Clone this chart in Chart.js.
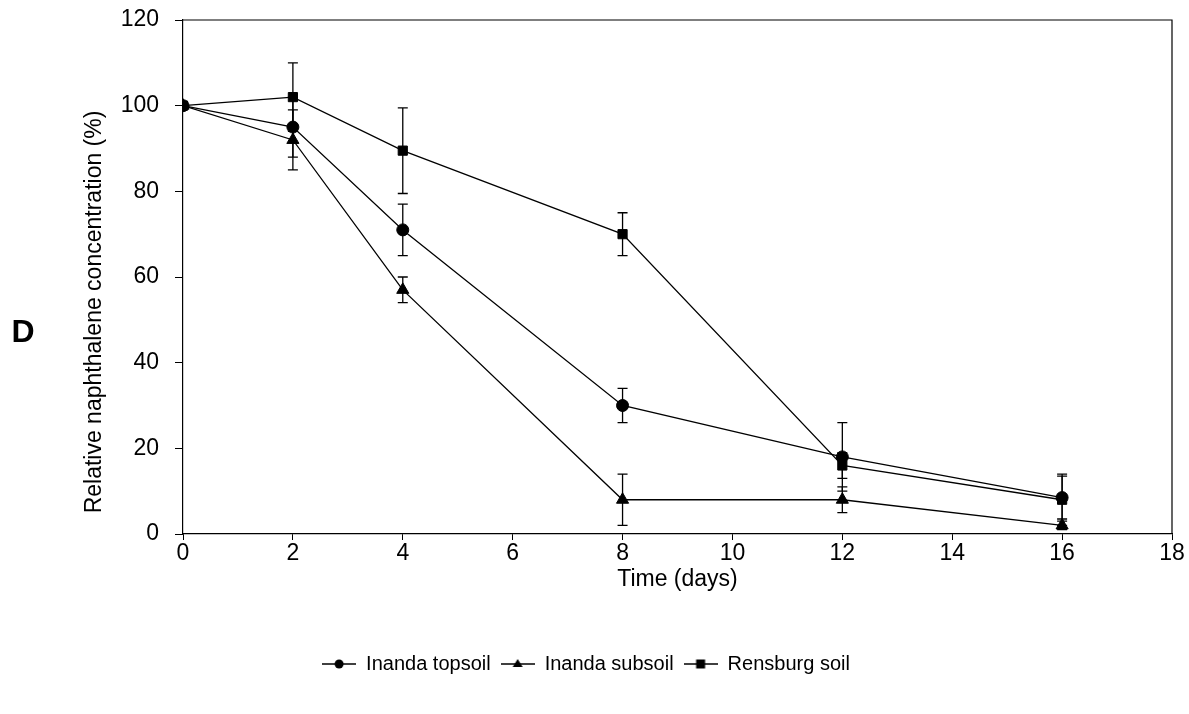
<!DOCTYPE html>
<html>
<head>
<meta charset="utf-8">
<script src="https://cdn.jsdelivr.net/npm/chart.js@4.4.0/dist/chart.umd.min.js"></script>
<style>
  body { margin: 0; background: #fff; }
  #wrap { position: relative; width: 1189px; height: 714px; }
</style>
</head>
<body>
<div id="wrap"><canvas id="c" width="1189" height="714"></canvas></div>
<script>
// data
const days = [0, 2, 4, 8, 12, 16];
const topsoil = [100, 95, 71, 30, 18, 8.5];
const topsoilErr = [0, 7, 6, 4, 8, 5];
const subsoil = [100, 92, 57, 8, 8, 2];
const subsoilErr = [0, 7, 3, 6, 3, 1];
const rensburg = [100, 102, 89.5, 70, 16, 8];
const rensburgErr = [0, 8, 10, 5, 3, 6];
const xTicks = [0, 2, 4, 6, 8, 10, 12, 14, 16, 18];
const yTicks = [0, 20, 40, 60, 80, 100, 120];

const FONT = '"Liberation Sans", Arial, sans-serif';
const FS = 23;

function pts(vals) {
    return days.map((d, i) => ({ x: d, y: vals[i] }));
}

// legend symbol: short line with marker in the middle
function legendIcon(style) {
    const cv = document.createElement('canvas');
    cv.width = 34; cv.height = 14;
    const g = cv.getContext('2d');
    g.strokeStyle = '#000'; g.fillStyle = '#000'; g.lineWidth = 1.3;
    g.beginPath(); g.moveTo(0, 7); g.lineTo(34, 7); g.stroke();
    g.beginPath();
    if (style === 'circle') g.arc(17, 7, 4.5, 0, Math.PI * 2);
    else if (style === 'triangle') { g.moveTo(17, 2); g.lineTo(22, 10); g.lineTo(12, 10); g.closePath(); }
    else g.rect(12.5, 2.5, 9, 9);
    g.fill();
    return cv;
}

// error bars, top/right frame, y title (sits a bit below centre) and panel letter
const extras = {
    id: 'extras',
    beforeDatasetsDraw(chart) {
        const g = chart.ctx, xs = chart.scales.x, ys = chart.scales.y;
        g.save();
        g.strokeStyle = '#000';
        g.lineWidth = 1.3;
        chart.data.datasets.forEach(ds => {
            ds.data.forEach((p, i) => {
                const e = ds.err[i];
                if (!e) return;
                const x = xs.getPixelForValue(p.x);
                const y1 = ys.getPixelForValue(p.y + e);
                const y2 = ys.getPixelForValue(p.y - e);
                g.beginPath();
                g.moveTo(x, y1); g.lineTo(x, y2);
                g.moveTo(x - 5, y1); g.lineTo(x + 5, y1);
                g.moveTo(x - 5, y2); g.lineTo(x + 5, y2);
                g.stroke();
            });
        });
        g.restore();
    },
    afterDraw(chart) {
        const g = chart.ctx, a = chart.chartArea;
        g.save();
        g.strokeStyle = '#000';
        g.lineWidth = 1.2;
        g.beginPath();
        g.moveTo(a.left, a.top); g.lineTo(a.right, a.top); g.lineTo(a.right, a.bottom);
        g.stroke();

        g.fillStyle = '#000';
        g.textAlign = 'center';
        g.textBaseline = 'middle';
        g.save();
        g.translate(95, 312);
        g.rotate(-Math.PI / 2);
        g.font = FS + 'px ' + FONT;
        g.fillText('Relative naphthalene concentration (%)', 0, 0);
        g.restore();

        g.font = 'bold 32px ' + FONT;
        g.fillText('D', 23, 333);
        g.restore();
    }
};

const common = {
    borderColor: '#000',
    backgroundColor: '#000',
    borderWidth: 1.3,
    pointBorderWidth: 1,
    tension: 0
};

new Chart(document.getElementById('c'), {
    type: 'line',
    data: {
        datasets: [
            { ...common, label: 'Inanda topsoil', data: pts(topsoil), err: topsoilErr, pointStyle: 'circle', pointRadius: 6 },
            { ...common, label: 'Inanda subsoil', data: pts(subsoil), err: subsoilErr, pointStyle: 'triangle', pointRadius: 7 },
            { ...common, label: 'Rensburg soil', data: pts(rensburg), err: rensburgErr, pointStyle: 'rect', pointRadius: 6.5 }
        ]
    },
    options: {
        responsive: false,
        animation: false,
        layout: { padding: { left: 0, right: 17, top: 20, bottom: 30 } },
        plugins: {
            tooltip: { enabled: false },
            legend: {
                position: 'bottom',
                labels: {
                    usePointStyle: true,
                    pointStyleWidth: 34,
                    padding: 10,
                    color: '#000',
                    font: { family: FONT, size: 20 },
                    generateLabels(chart) {
                        const icons = ['circle', 'triangle', 'rect'];
                        return chart.data.datasets.map((ds, i) => ({
                            text: ds.label,
                            pointStyle: legendIcon(icons[i]),
                            fillStyle: '#000',
                            strokeStyle: '#000',
                            lineWidth: 0,
                            fontColor: '#000',
                            datasetIndex: i
                        }));
                    }
                }
            }
        },
        scales: {
            x: {
                type: 'linear',
                min: 0,
                max: 18,
                afterBuildTicks(s) { s.ticks = xTicks.map(v => ({ value: v })); },
                afterFit(s) { s.height = 110; s.paddingLeft = 0; s.paddingRight = 0; },
                border: { display: true, color: '#000', width: 1.2 },
                grid: { drawOnChartArea: false, drawTicks: true, tickLength: 6, color: '#000' },
                ticks: { color: '#000', padding: 0, maxRotation: 0, font: { family: FONT, size: FS } },
                title: { display: true, text: 'Time (days)', color: '#000', padding: { top: 0, bottom: 51 }, font: { family: FONT, size: FS } }
            },
            y: {
                min: 0,
                max: 120,
                afterBuildTicks(s) { s.ticks = yTicks.map(v => ({ value: v })); },
                afterFit(s) { s.width = 183; s.paddingTop = 0; s.paddingBottom = 0; },
                border: { display: true, color: '#000', width: 1.2 },
                grid: { drawOnChartArea: false, drawTicks: true, tickLength: 8, color: '#000' },
                ticks: { color: '#000', padding: 16, font: { family: FONT, size: FS } },
                title: { display: false }
            }
        }
    },
    plugins: [extras]
});
</script>
</body>
</html>
